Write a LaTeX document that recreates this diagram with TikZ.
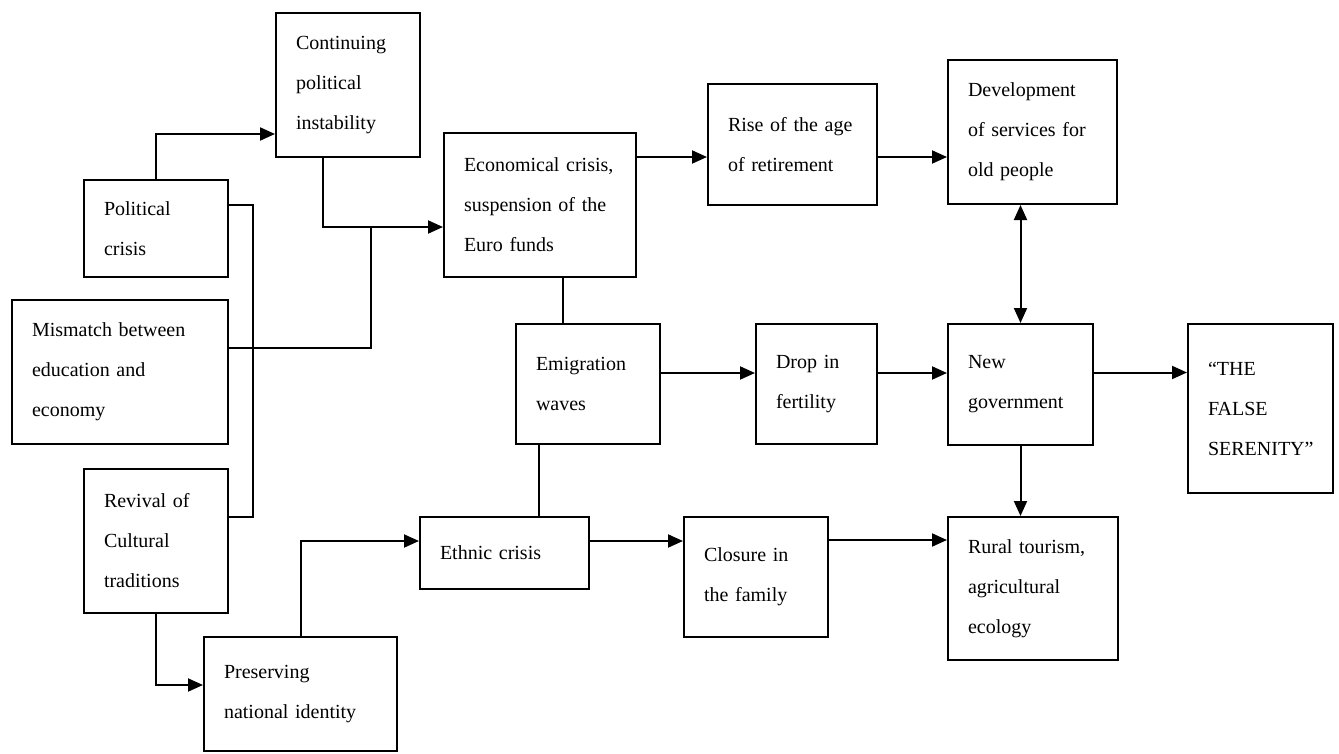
\documentclass[tikz,border=0pt]{standalone}
\usepackage{fontspec}
\setmainfont{Liberation Serif}
\usetikzlibrary{arrows.meta}
\usetikzlibrary{calc}
\tikzset{>={Triangle[length=15pt,width=13pt]}}
\tikzset{
    block/.style={draw, rectangle, line width=2pt, anchor=north west, align=left,
        inner xsep=20pt, inner ysep=0pt, font=\fontsize{20}{40}\selectfont},
    boxdim/.style n args={3}{minimum width=#1pt, minimum height=#2pt, text width=#3pt},
    link/.style={line width=2pt},
}

\begin{document}
\begin{tikzpicture}[x=1pt, y=-1pt] % causes and effects
	\useasboundingbox (0,0) rectangle (1339,753);
	% left column
	\node[block, boxdim={144}{144}{104}] (cont) at (275,12) {Continuing\\political\\instability};
	\node[block, boxdim={144}{97}{104}] (pol) at (83,179) {Political\\crisis};
	\node[block, boxdim={216}{144}{176}] (mis) at (11,299) {Mismatch between\\education and\\economy};
	\node[block, boxdim={144}{144}{104}] (rev) at (83,468) {Revival of\\Cultural\\traditions};
	\node[block, boxdim={193}{114}{153}] (pres) at (203,636) {Preserving\\national identity};
	% middle
	\node[block, boxdim={192}{144}{152}] (eco) at (443,132) {Economical crisis,\\suspension of the\\Euro funds};
	\node[block, boxdim={144}{120}{104}] (emi) at (515,323) {Emigration\\waves};
	\node[block, boxdim={169}{72}{129}] (eth) at (419,516) {Ethnic crisis};
	\node[block, boxdim={169}{121}{129}] (rise) at (707,83) {Rise of the age\\of retirement};
	\node[block, boxdim={121}{120}{81}] (drop) at (755,323) {Drop in\\fertility};
	\node[block, boxdim={144}{120}{104}] (clo) at (683,516) {Closure in\\the family};
	% right
	\node[block, boxdim={169}{144}{129}] (dev) at (947,59) {Development\\of services for\\old people};
	\node[block, boxdim={145}{121}{105}] (gov) at (947,323) {New\\government};
	\node[block, boxdim={170}{143}{130}] (rur) at (947,516) {Rural tourism,\\agricultural\\ecology};
	\node[block, boxdim={145}{169}{105}] (fal) at (1187,323) {“THE\\FALSE\\SERENITY”};

	\coordinate (join) at (371,227);
	% connectors on the left
	\draw[link, ->] (pol.north) |- ([yshift=24pt]cont.south west);
	\draw[link, ->] ([xshift=48pt]cont.south west) |- (join) -- (join -| eco.west);
	\draw[link] ([yshift=24pt]mis.east) -| (join);
	\draw[link] ([yshift=24pt]pol.east) -- ++(24,0) |- ([yshift=24pt]rev.east);
	\draw[link, ->] (rev.south) |- ([yshift=9pt]pres.west);
	\draw[link, ->] (pres.north) |- ([yshift=12pt]eth.west);
	% middle column
	\draw[link] ([xshift=120pt]eco.south west) -- ([xshift=120pt]eco.south west |- emi.north);
	\draw[link] ([xshift=24pt]emi.south west) -- ([xshift=24pt]emi.south west |- eth.north);
	\draw[link, ->] ([yshift=48pt]eco.east) -- ([yshift=48pt]eco.east -| rise.west);
	\draw[link, ->] ([yshift=-12.5pt]rise.east) -- ([yshift=-12.5pt]rise.east -| dev.west);
	\draw[link, ->] ([yshift=11pt]emi.east) -- ([yshift=11pt]emi.east -| drop.west);
	\draw[link, ->] ([yshift=11pt]drop.east) -- ([yshift=11pt]drop.east -| gov.west);
	\draw[link, ->] ([yshift=12pt]eth.east) -- ([yshift=12pt]eth.east -| clo.west);
	\draw[link, ->] ([yshift=37pt]clo.east) -- ([yshift=37pt]clo.east -| rur.west);
	% right column
	\draw[link, <->] (gov.north) -- (gov.north |- dev.south);
	\draw[link, ->] (gov.south) -- (gov.south |- rur.north);
	\draw[link, ->] ([yshift=12pt]gov.east) -- ([yshift=12pt]gov.east -| fal.west);
\end{tikzpicture}
\end{document}
